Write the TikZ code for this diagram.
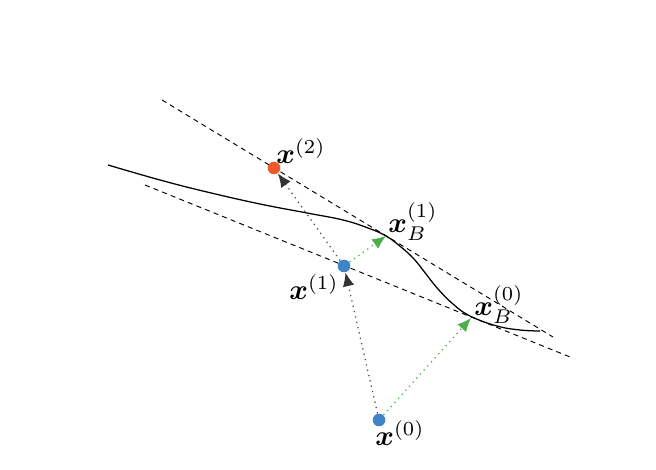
\documentclass[tikz,border=0pt]{standalone}
\usepackage{amsmath,bm,graphicx}
\usetikzlibrary{arrows.meta}
\definecolor{ptblue}{HTML}{3D85C6}
\definecolor{ptorange}{HTML}{F05A28}
\definecolor{arrgreen}{HTML}{4DAF4A}
\definecolor{arrgray}{HTML}{333333}
\newcommand{\biglbl}[1]{\scalebox{1.35}{$#1$}}
\begin{document}
\begin{tikzpicture}[x=0.476pt,y=-0.476pt,
  dot/.style={circle,inner sep=0pt,minimum size=6pt},
  tangent/.style={black,line width=0.45pt,dash pattern=on 2.4pt off 2pt},
  stepgray/.style={gray!60!black,dotted,line width=0.6pt,-{Latex[length=6.5pt,width=5.5pt,color=arrgray]}},
  stepgreen/.style={arrgreen,dotted,line width=0.6pt,-{Latex[length=6.5pt,width=5.5pt]}},
  lbl/.style={inner sep=0pt}]
\useasboundingbox (0,0) rectangle (656,470);
% tangent lines
\coordinate (u1) at (162,100);
\coordinate (u2) at (553,337);
\coordinate (l1) at (145,185);
\coordinate (l2) at (570,357);
\draw[tangent] (u1) -- (u2);
\draw[tangent] (l1) -- (l2);
% curve
\draw[black,line width=0.6pt] plot[smooth,tension=0.7] coordinates
 {(108,165) (160,180) (207,192) (260,204) (307,213) (343,220) (368,228) (386,236)
  (401,247) (414,259) (426,274) (438,289) (453,304) (470,316) (497,326) (520,330) (540,331)};
% points
\coordinate (b1) at (386,236);
\coordinate (b0) at (471,318);
\node[dot,fill=ptblue] (x0) at (379,420) {};
\node[dot,fill=ptblue] (x1) at (344,266) {};
\node[dot,fill=ptorange] (x2) at (274,168) {};
% steps
\draw[stepgray] (x0) -- (x1);
\draw[stepgray] (x1) -- (x2);
\draw[stepgreen] (x0) -- (b0);
\draw[stepgreen] (x1) -- (b1);
% labels
\node[lbl] (l2lab) at (301,151) {\biglbl{\bm{x}^{(2)}}};
\node[lbl] (lb1lab) at (413,222) {\biglbl{\bm{x}_B^{(1)}}};
\node[lbl] (l1lab) at (314,287) {\biglbl{\bm{x}^{(1)}}};
\node[lbl] (lb0lab) at (499,305) {\biglbl{\bm{x}_B^{(0)}}};
\node[lbl] (l0lab) at (400,433) {\biglbl{\bm{x}^{(0)}}};
\end{tikzpicture}
\end{document}
